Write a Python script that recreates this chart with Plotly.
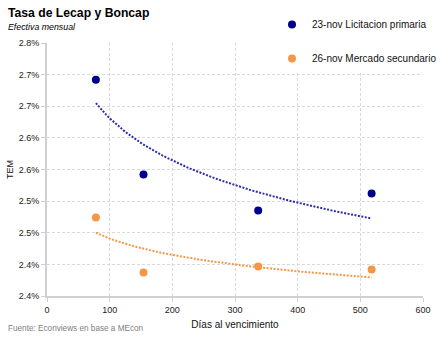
import numpy as np
import plotly.graph_objects as go

# Days to maturity and monthly effective rate (TEM, %)
dias = [78, 154, 337, 518]
tem_licitacion = [2.742, 2.592, 2.535, 2.562]
tem_secundario = [2.524, 2.437, 2.4465, 2.442]

serie_licitacion = "23-nov Licitacion primaria"
serie_secundario = "26-nov Mercado secundario"

y_ticks = [2.40, 2.45, 2.50, 2.55, 2.60, 2.65, 2.70, 2.75, 2.80]
y_tick_labels = ["2.4%", "2.4%", "2.5%", "2.5%", "2.6%", "2.6%", "2.7%", "2.7%", "2.8%"]
x_ticks = [0, 100, 200, 300, 400, 500, 600]

AZUL = "#00008C"
AZUL_TEND = "#2B2BB0"
NARANJA = "#F79646"
FONT = "Liberation Sans"

W, H = 443, 340
ML, MR, MT, MB = 47, 20, 43, 44
PW, PH = W - ML - MR, H - MT - MB


def tendencia_log(x, y, n=80):
    """Logarithmic trendline y = a*ln(x) + b between min and max x."""
    x = np.asarray(x, float)
    a, b = np.polyfit(np.log(x), np.asarray(y, float), 1)
    xs = np.linspace(x.min(), x.max(), n)
    return xs, a * np.log(xs) + b


def px_x(p):
    return (p - ML) / PW


def px_y(p):
    return 1 - (p - MT) / PH


fig = go.Figure()

for nombre, valores, color, color_tend, grupo in [
    (serie_licitacion, tem_licitacion, AZUL, AZUL_TEND, "a"),
    (serie_secundario, tem_secundario, NARANJA, NARANJA, "b"),
]:
    xs, ys = tendencia_log(dias, valores)
    fig.add_trace(go.Scatter(
        x=xs, y=ys, mode="lines", showlegend=False, hoverinfo="skip",
        line=dict(color=color_tend, width=2, dash="2px,1.5px"),
    ))
    fig.add_trace(go.Scatter(
        x=dias, y=valores, mode="markers", name=nombre, legendgroup=grupo,
        marker=dict(color=color, size=8),
    ))

fig.update_layout(
    width=W, height=H,
    margin=dict(l=ML, r=MR, t=MT, b=MB, autoexpand=False),
    paper_bgcolor="white", plot_bgcolor="white",
    font=dict(family=FONT, size=9, color="#222222"),
    showlegend=True,
    legend=dict(
        x=px_x(272), xanchor="left", y=px_y(10), yanchor="top",
        bgcolor="white", borderwidth=0,
        font=dict(family=FONT, size=10, color="#111111"),
        tracegroupgap=15, traceorder="grouped",
        itemwidth=30,
    ),
    xaxis=dict(
        range=[0, 600], tickvals=x_ticks, showgrid=True,
        gridcolor="#D9D9D9", griddash="3px,2px", gridwidth=1,
        showline=True, linecolor="#D0D0D0", linewidth=2,
        ticks="outside", ticklen=4, tickcolor="#D0D0D0",
        tickfont=dict(size=9, color="#222222"), zeroline=False,
        title=dict(text="Días al vencimiento", font=dict(size=10, color="#111111"), standoff=7),
    ),
    yaxis=dict(
        range=[2.40, 2.80], tickvals=y_ticks, ticktext=y_tick_labels,
        showgrid=True, gridcolor="#D9D9D9", griddash="3px,2px", gridwidth=1,
        showline=True, linecolor="#D0D0D0", linewidth=2,
        ticks="outside", ticklen=4, tickcolor="#D0D0D0",
        tickfont=dict(size=9, color="#222222"), zeroline=False,
        title=dict(text="TEM", font=dict(size=9, color="#111111"), standoff=4),
    ),
)

# Header and footer texts
fig.add_annotation(text="<b>Tasa de Lecap y Boncap</b>", xref="paper", yref="paper",
                   x=px_x(6), y=px_y(4), xanchor="left", yanchor="top",
                   showarrow=False, font=dict(family=FONT, size=12.2, color="#000000"))
fig.add_annotation(text="<i>Efectiva mensual</i>", xref="paper", yref="paper",
                   x=px_x(6), y=px_y(20), xanchor="left", yanchor="top",
                   showarrow=False, font=dict(family=FONT, size=8.8, color="#000000"))
fig.add_annotation(text="Fuente: Econviews en base a MEcon", xref="paper", yref="paper",
                   x=px_x(6), y=px_y(322), xanchor="left", yanchor="top",
                   showarrow=False, font=dict(family=FONT, size=8.2, color="#808080"))

fig.write_html("out.html")
